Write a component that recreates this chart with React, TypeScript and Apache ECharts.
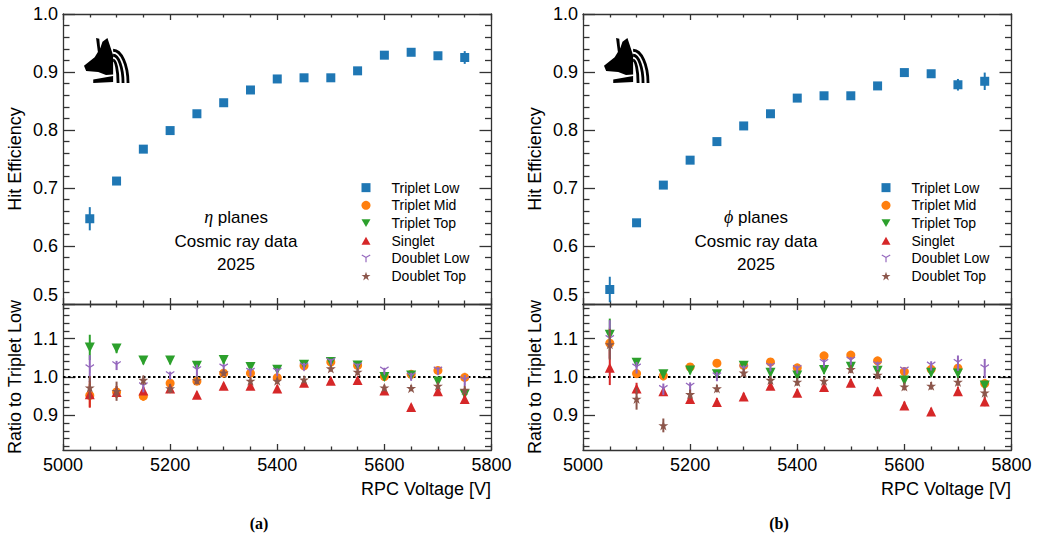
import React, { useEffect, useRef } from "react";
import * as echarts from "echarts";

// ---------- data ----------
const voltages = [5050, 5100, 5150, 5200, 5250, 5300, 5350, 5400, 5450, 5500, 5550, 5600, 5650, 5700, 5750];

const seriesNames = ["Triplet Low", "Triplet Mid", "Triplet Top", "Singlet", "Doublet Low", "Doublet Top"];

// eta planes: Triplet Low efficiency
const etaEff = [0.647, 0.712, 0.767, 0.799, 0.828, 0.847, 0.869, 0.888, 0.890, 0.890, 0.902, 0.929, 0.934, 0.928, 0.925];
const etaEffErr = [0.020, 0.004, 0.003, 0.003, 0.003, 0.003, 0.003, 0.003, 0.003, 0.003, 0.004, 0.005, 0.005, 0.006, 0.011];
// phi planes: Triplet Low efficiency
const phiEff = [0.525, 0.640, 0.705, 0.748, 0.780, 0.807, 0.828, 0.855, 0.859, 0.859, 0.876, 0.899, 0.897, 0.878, 0.884];
const phiEffErr = [0.022, 0.004, 0.003, 0.003, 0.003, 0.003, 0.003, 0.003, 0.003, 0.004, 0.005, 0.006, 0.006, 0.010, 0.015];

// eta planes: ratios to Triplet Low
const etaMid = [0.952, 0.961, 0.950, 0.984, 0.989, 1.010, 1.010, 0.998, 1.029, 1.039, 1.030, 1.001, 1.007, 1.017, 0.999];
const etaTop = [1.077, 1.074, 1.043, 1.043, 1.029, 1.044, 1.026, 1.019, 1.032, 1.039, 1.030, 1.000, 1.004, 0.988, 0.955];
const etaSinglet = [0.955, 0.961, 0.965, 0.970, 0.954, 0.977, 0.977, 0.970, 0.985, 0.990, 0.992, 0.965, 0.922, 0.963, 0.943];
const etaDLow = [1.022, 1.030, 0.975, 1.004, 1.017, 1.024, 1.013, 1.013, 1.027, 1.039, 1.027, 1.016, 1.001, 1.016, 0.990];
const etaDTop = [0.972, 0.963, 0.992, 0.970, 0.991, 1.011, 0.990, 0.990, 0.993, 1.022, 1.013, 0.972, 0.971, 0.977, 0.966];
const etaMidErr = [0.030, 0.015, 0.012, 0.010, 0.008, 0.008, 0.008, 0.008, 0.008, 0.008, 0.008, 0.008, 0.008, 0.010, 0.012];
const etaTopErr = [0.033, 0.012, 0.010, 0.010, 0.008, 0.010, 0.008, 0.008, 0.008, 0.008, 0.008, 0.008, 0.008, 0.010, 0.012];
const etaSingletErr = [0.035, 0.015, 0.010, 0.010, 0.008, 0.008, 0.008, 0.008, 0.008, 0.008, 0.008, 0.008, 0.008, 0.010, 0.012];
const etaDLowErr = [0.035, 0.012, 0.015, 0.010, 0.015, 0.010, 0.010, 0.010, 0.010, 0.008, 0.008, 0.008, 0.010, 0.010, 0.015];
const etaDTopErr = [0.030, 0.025, 0.012, 0.012, 0.010, 0.008, 0.008, 0.008, 0.008, 0.008, 0.008, 0.008, 0.008, 0.008, 0.010];

// phi planes: ratios to Triplet Low
const phiMid = [1.088, 1.009, 1.003, 1.026, 1.036, 1.030, 1.039, 1.024, 1.055, 1.057, 1.042, 1.014, 1.020, 1.023, 0.983];
const phiTop = [1.110, 1.037, 1.007, 1.017, 1.007, 1.029, 1.011, 1.004, 1.018, 1.027, 1.016, 0.991, 1.011, 1.009, 0.978];
const phiSinglet = [1.024, 0.970, 0.963, 0.943, 0.935, 0.949, 0.977, 0.959, 0.974, 0.985, 0.963, 0.926, 0.910, 0.963, 0.936];
const phiDLow = [1.098, 1.024, 0.968, 0.974, 1.001, 1.020, 1.026, 1.020, 1.036, 1.042, 1.030, 1.016, 1.029, 1.036, 1.022];
const phiDTop = [1.085, 0.943, 0.874, 0.955, 0.970, 1.011, 0.992, 0.987, 0.990, 1.020, 1.005, 0.975, 0.977, 0.987, 0.959];
const phiMidErr = [0.040, 0.012, 0.012, 0.010, 0.010, 0.010, 0.010, 0.010, 0.010, 0.010, 0.010, 0.010, 0.010, 0.012, 0.012];
const phiTopErr = [0.042, 0.012, 0.010, 0.010, 0.010, 0.010, 0.010, 0.010, 0.010, 0.010, 0.010, 0.010, 0.010, 0.012, 0.012];
const phiSingletErr = [0.045, 0.015, 0.012, 0.010, 0.010, 0.010, 0.010, 0.010, 0.010, 0.010, 0.010, 0.010, 0.010, 0.012, 0.012];
const phiDLowErr = [0.050, 0.015, 0.015, 0.012, 0.012, 0.010, 0.010, 0.010, 0.010, 0.010, 0.010, 0.010, 0.012, 0.020, 0.025];
const phiDTopErr = [0.040, 0.028, 0.018, 0.012, 0.010, 0.010, 0.010, 0.010, 0.010, 0.010, 0.010, 0.010, 0.010, 0.010, 0.012];

// tick values
const effTickLabels = [0.5, 0.6, 0.7, 0.8, 0.9, 1.0];
const ratioTickLabels = [0.9, 1.0, 1.1];
const ratioMinorTicks = [0.82, 0.84, 0.86, 0.88, 0.92, 0.94, 0.96, 0.98, 1.02, 1.04, 1.06, 1.08, 1.12, 1.14, 1.16, 1.18];

// ---------- styling ----------
const FONT = '"Liberation Sans", Arial, Helvetica, sans-serif';
const AX = "#333";
const COLORS = ["#1f77b4", "#ff7f0e", "#2ca02c", "#d62728", "#9467bd", "#8c564b"];
const SYMBOLS = [
  "rect",
  "circle",
  "path://M0,0 L10,0 L5,8.66 Z",
  "path://M5,0 L10,8.66 L0,8.66 Z",
  "path://M4.4,10 L5.6,10 L5.6,5.35 L9.6,3 L9,2 L5,4.3 L1,2 L0.4,3 L4.4,5.35 Z",
  "path://M5,0 L6.2,3.6 L10,3.6 L6.9,5.8 L8.1,9.5 L5,7.2 L1.9,9.5 L3.1,5.8 L0,3.6 L3.8,3.6 Z",
];
const SIZES = [9, 9, 10, 10, 9, 10];

const HEAD_D =
  "M0,72 L30,50 L46,26 L52,10 L66,0 L82,45 L82,95 L62,96 L40,88 L6,86 Z M34,0 L43,2 L46,34 L39,36 Z M26,108 L82,99 L82,114 L26,117 Z";
const ARCS_D =
  "M82,58 A14,59 0 0 1 96,117 M82,45 A28,72 0 0 1 110,117 M82,32 A42,85 0 0 1 124,117";

const lineStyle = { color: AX, width: 1.3 };

function xPair(grid: number, labels: boolean) {
  const base: any = {
    type: "value",
    gridIndex: grid,
    min: 5000,
    max: 5800,
    interval: 200,
    splitLine: { show: false },
    minorSplitLine: { show: false },
    axisLine: { show: true, onZero: false, lineStyle },
    axisTick: { show: true, inside: true, length: 6, lineStyle },
    minorTick: { show: true, splitNumber: 4, length: 3.5, lineStyle },
  };
  return [
    {
      ...base,
      position: "bottom",
      axisLabel: {
        show: labels,
        formatter: (v: number) => String(v),
        fontSize: 18,
        fontFamily: FONT,
        color: "#000",
        margin: 6,
      },
    },
    { ...base, position: "top", axisLabel: { show: false } },
  ];
}

function yEff(grid: number) {
  const base: any = {
    type: "value",
    gridIndex: grid,
    min: 0.5,
    max: 1.0,
    interval: 0.1,
    splitLine: { show: false },
    minorSplitLine: { show: false },
    axisLine: { show: true, onZero: false, lineStyle },
    axisTick: { show: true, inside: true, length: 12, lineStyle },
    minorTick: { show: true, splitNumber: 5, length: 6.5, lineStyle },
  };
  return [
    {
      ...base,
      position: "left",
      axisLabel: {
        show: true,
        customValues: effTickLabels,
        formatter: (v: number) => v.toFixed(1),
        fontSize: 18,
        fontFamily: FONT,
        color: "#000",
        margin: 5,
        verticalAlignMinLabel: "bottom",
      },
    },
    { ...base, position: "right", axisLabel: { show: false } },
  ];
}

function yRatio(grid: number) {
  const base: any = {
    type: "value",
    gridIndex: grid,
    min: 0.81,
    max: 1.19,
    splitLine: { show: false },
    minorSplitLine: { show: false },
    minorTick: { show: false },
  };
  const major = (pos: string, labels: boolean) => ({
    ...base,
    position: pos,
    axisLine: { show: true, onZero: false, lineStyle },
    axisTick: { show: true, inside: true, length: 12, lineStyle, customValues: ratioTickLabels },
    axisLabel: labels
      ? {
          show: true,
          customValues: ratioTickLabels,
          formatter: (v: number) => v.toFixed(1),
          fontSize: 18,
          fontFamily: FONT,
          color: "#000",
          margin: 5,
        }
      : { show: false },
  });
  const minor = (pos: string) => ({
    ...base,
    position: pos,
    axisLine: { show: false, onZero: false },
    axisTick: { show: true, inside: true, length: 6.5, lineStyle, customValues: ratioMinorTicks },
    axisLabel: { show: false },
  });
  return [major("left", true), minor("left"), major("right", false), minor("right")];
}

function scatter(idx: number, xi: number, yi: number, vals: number[]) {
  return {
    type: "scatter",
    name: seriesNames[idx],
    xAxisIndex: xi,
    yAxisIndex: yi,
    data: voltages.map((v, i) => [v, vals[i]]),
    symbol: SYMBOLS[idx],
    symbolSize: SIZES[idx],
    itemStyle: { color: COLORS[idx], opacity: 1 },
    z: 4 + idx,
    silent: true,
  };
}

function errbars(idx: number, xi: number, yi: number, vals: number[], errs: number[]) {
  const color = COLORS[idx];
  return {
    type: "custom",
    name: seriesNames[idx] + " err",
    xAxisIndex: xi,
    yAxisIndex: yi,
    data: voltages.map((v, i) => [v, vals[i], errs[i]]),
    encode: { x: 0, y: 1 },
    clip: true,
    silent: true,
    z: 4 + idx,
    renderItem: (params: any, api: any) => {
      const x = api.value(0);
      const y = api.value(1);
      const e = api.value(2);
      const p1 = api.coord([x, y - e]);
      const p2 = api.coord([x, y + e]);
      return {
        type: "line",
        shape: { x1: p1[0], y1: p1[1], x2: p2[0], y2: p2[1] },
        style: { stroke: color, lineWidth: 2 },
      };
    },
  };
}

function panelGraphics(dx: number, planeSym: string) {
  return [
    {
      type: "text",
      x: 236 + dx,
      y: 217,
      style: {
        text: "{i|" + planeSym + "} planes",
        rich: { i: { fontStyle: "italic", fontFamily: '"Liberation Serif", "DejaVu Serif", serif', fontSize: 18 } },
        fontSize: 17,
        fontFamily: FONT,
        fill: "#000",
        align: "center",
        verticalAlign: "middle",
      },
    },
    {
      type: "text",
      x: 236 + dx,
      y: 241,
      style: { text: "Cosmic ray data", fontSize: 17, fontFamily: FONT, fill: "#000", align: "center", verticalAlign: "middle" },
    },
    {
      type: "text",
      x: 236 + dx,
      y: 264,
      style: { text: "2025", fontSize: 17, fontFamily: FONT, fill: "#000", align: "center", verticalAlign: "middle" },
    },
    {
      type: "text",
      x: 15 + dx,
      y: 159,
      rotation: Math.PI / 2,
      style: { text: "Hit Efficiency", fontSize: 18, fontFamily: FONT, fill: "#000", align: "center", verticalAlign: "middle" },
    },
    {
      type: "text",
      x: 15 + dx,
      y: 377,
      rotation: Math.PI / 2,
      style: { text: "Ratio to Triplet Low", fontSize: 18, fontFamily: FONT, fill: "#000", align: "center", verticalAlign: "middle" },
    },
    {
      type: "text",
      x: 491 + dx,
      y: 489,
      style: { text: "RPC Voltage [V]", fontSize: 18, fontFamily: FONT, fill: "#000", align: "right", verticalAlign: "middle" },
    },
    {
      type: "text",
      x: 259 + dx,
      y: 523,
      style: {
        text: dx === 0 ? "(a)" : "(b)",
        fontSize: 16,
        fontWeight: "bold",
        fontFamily: '"Liberation Serif", "Times New Roman", serif',
        fill: "#000",
        align: "center",
        verticalAlign: "middle",
      },
    },
    {
      type: "logoHead",
      x: 84 + dx,
      y: 38,
      scaleX: 44 / 124,
      scaleY: 45 / 117,
      style: { fill: "#000" },
    },
    {
      type: "logoArcs",
      x: 84 + dx,
      y: 38,
      scaleX: 44 / 124,
      scaleY: 45 / 117,
      style: { fill: "none", stroke: "#000", lineWidth: 8 },
    },
  ];
}

function legendAt(left: number) {
  return {
    orient: "vertical",
    left,
    top: 178.8,
    padding: 0,
    itemWidth: 9,
    itemHeight: 9,
    itemGap: 0,
    selectedMode: false,
    data: seriesNames,
    textStyle: { fontSize: 14, fontFamily: FONT, color: "#000", lineHeight: 17.7, padding: [0, 0, 0, 16] },
  };
}

export default function App() {
  const ref = useRef<HTMLDivElement>(null);

  useEffect(() => {
    if (!ref.current) return;
    echarts.graphic.registerShape("logoHead", echarts.graphic.extendPath(HEAD_D, {}) as any);
    echarts.graphic.registerShape("logoArcs", echarts.graphic.extendPath(ARCS_D, {}) as any);
    const chart = echarts.init(ref.current, undefined, { renderer: "svg" });

    const grids = [
      { left: 63, top: 14, width: 428.5, height: 290 },
      { left: 63, top: 304, width: 428.5, height: 146 },
      { left: 583, top: 14, width: 428.5, height: 290 },
      { left: 583, top: 304, width: 428.5, height: 146 },
    ];

    const xAxis = [...xPair(0, false), ...xPair(1, true), ...xPair(2, false), ...xPair(3, true)];
    // y axis indices: grid0 -> 0,1 ; grid1 -> 2..5 ; grid2 -> 6,7 ; grid3 -> 8..11
    const yAxis = [...yEff(0), ...yRatio(1), ...yEff(2), ...yRatio(3)];

    const series: any[] = [];
    const dotted = (xi: number, yi: number) => ({
      type: "scatter",
      name: "unity",
      xAxisIndex: xi,
      yAxisIndex: yi,
      data: [],
      z: 2,
      silent: true,
      markLine: {
        silent: true,
        symbol: ["none", "none"],
        label: { show: false },
        lineStyle: { color: "#000", type: [2.5, 2.5], width: 2 },
        data: [{ yAxis: 1 }],
      },
    });

    // left (eta)
    series.push(errbars(0, 0, 0, etaEff, etaEffErr), scatter(0, 0, 0, etaEff));
    series.push(dotted(2, 2));
    const etaR = [etaMid, etaTop, etaSinglet, etaDLow, etaDTop];
    const etaRE = [etaMidErr, etaTopErr, etaSingletErr, etaDLowErr, etaDTopErr];
    etaR.forEach((vals, k) => {
      series.push(errbars(k + 1, 2, 2, vals, etaRE[k]), scatter(k + 1, 2, 2, vals));
    });
    // right (phi)
    series.push(errbars(0, 4, 6, phiEff, phiEffErr), scatter(0, 4, 6, phiEff));
    series.push(dotted(6, 8));
    const phiR = [phiMid, phiTop, phiSinglet, phiDLow, phiDTop];
    const phiRE = [phiMidErr, phiTopErr, phiSingletErr, phiDLowErr, phiDTopErr];
    phiR.forEach((vals, k) => {
      series.push(errbars(k + 1, 6, 8, vals, phiRE[k]), scatter(k + 1, 6, 8, vals));
    });

    chart.setOption({
      animation: false,
      backgroundColor: "#fff",
      grid: grids,
      xAxis,
      yAxis,
      legend: [legendAt(361.5), legendAt(881.5)],
      series,
      graphic: [...panelGraphics(0, "η"), ...panelGraphics(520, "ϕ")],
    });

    return () => chart.dispose();
  }, []);

  return <div ref={ref} style={{ position: "absolute", left: 0, top: 0, width: 1038, height: 536 }} />;
}
